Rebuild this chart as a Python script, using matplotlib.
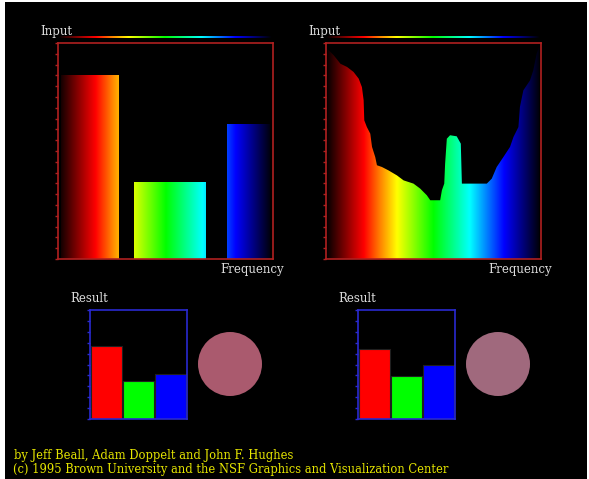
import numpy as np
import matplotlib
matplotlib.use("Agg")
import matplotlib.pyplot as plt
from matplotlib.colors import LinearSegmentedColormap
from matplotlib.patches import Rectangle, Circle

# --- data ---
# left histogram: three bands along the input axis (0..1)
band_left = [0.016, 0.353, 0.788]
band_right = [0.284, 0.684, 0.988]
band_freq = [0.85, 0.355, 0.623]

# right histogram: frequency profile along the input axis
curve_x = [0.005, 0.036, 0.067, 0.098, 0.128, 0.152, 0.167, 0.175, 0.178, 0.190,
           0.206, 0.214, 0.229, 0.237, 0.260, 0.291, 0.330, 0.361, 0.407, 0.438,
           0.469, 0.485, 0.531, 0.539, 0.550, 0.554, 0.562, 0.577, 0.608, 0.627,
           0.632, 0.655, 0.748, 0.771, 0.794, 0.825, 0.856, 0.872, 0.895, 0.902,
           0.918, 0.949, 0.964, 0.980, 0.992]
curve_y = [0.974, 0.943, 0.904, 0.889, 0.866, 0.835, 0.796, 0.735, 0.642, 0.611,
           0.580, 0.519, 0.472, 0.434, 0.426, 0.410, 0.387, 0.364, 0.349, 0.326,
           0.295, 0.272, 0.272, 0.318, 0.349, 0.441, 0.557, 0.573, 0.568, 0.534,
           0.349, 0.349, 0.349, 0.372, 0.426, 0.472, 0.519, 0.565, 0.611, 0.704,
           0.781, 0.827, 0.873, 0.951, 0.985]

# result bars (red, green, blue) and mixed colours
result_labels = ["R", "G", "B"]
result_left = [0.67, 0.35, 0.415]
result_right = [0.643, 0.396, 0.494]
result_colors = ["#ff0000", "#00ff00", "#0000ff"]
mix_left = "#aa5a6e"
mix_right = "#a0697d"

credit1 = "by Jeff Beall, Adam Doppelt and John F. Hughes"
credit2 = "(c) 1995 Brown University and the NSF Graphics and Visualization Center"

# spectrum colormap: black -> red -> yellow -> green -> cyan -> blue -> black
spec = LinearSegmentedColormap.from_list("spec", [
    (0.0, "#000000"), (0.175, "#ff0000"), (0.25, "#ff8000"), (0.33, "#ffff00"),
    (0.5, "#00ff00"), (0.67, "#00ffff"), (0.83, "#0000ff"), (1.0, "#000000")])
grad = np.linspace(0, 1, 512)[None, :]

W, H = 589, 479
fig = plt.figure(figsize=(W / 100, H / 100), dpi=100, facecolor="white")
fig.patches.append(Rectangle((5 / W, 0), (W - 7) / W, (H - 2) / H, transform=fig.transFigure,
                             facecolor="black", edgecolor="none", zorder=-10))

def px(x0, y0, x1, y1):
    return [x0 / W, 1 - y1 / H, (x1 - x0) / W, (y1 - y0) / H]

frame_red = "#b02020"
frame_blue = "#2a2ad0"
label_col = "#dcdcdc"
serif = "DejaVu Serif"

def hist_axes(rect):
    ax = fig.add_axes(rect)
    ax.set_facecolor("black")
    ax.set_xlim(0, 1)
    ax.set_ylim(0, 1)
    for s in ax.spines.values():
        s.set_color(frame_red)
        s.set_linewidth(1.2)
    ax.set_xticks([])
    ax.set_yticks(np.arange(0, 1.01, 0.05))
    ax.set_yticklabels([])
    ax.tick_params(axis="y", direction="out", length=2.5, width=1, color=frame_red)
    return ax

# left histogram
ax1 = hist_axes(px(58, 43, 273, 259))
bars = ax1.bar(band_left, band_freq, width=np.array(band_right) - np.array(band_left),
               align="edge", color="none", edgecolor="none")
for b in bars:
    im = ax1.imshow(grad, cmap=spec, extent=[0, 1, 0, 1], aspect="auto", interpolation="bilinear")
    im.set_clip_path(b)

# right histogram
ax2 = hist_axes(px(326, 43, 541, 259))
poly = ax2.fill_between(curve_x, curve_y, 0, color="none", edgecolor="none")
im = ax2.imshow(grad, cmap=spec, extent=[0, 1, 0, 1], aspect="auto", interpolation="bilinear")
im.set_clip_path(poly.get_paths()[0], ax2.transData)

# spectrum strips above each histogram
for x0, x1 in [(58, 272), (326, 540)]:
    sa = fig.add_axes(px(x0, 35.5, x1, 38.5))
    sa.imshow(grad, cmap=spec, aspect="auto", interpolation="bilinear")
    sa.axis("off")

# result panels
def result_axes(rect, vals):
    ax = fig.add_axes(rect)
    ax.set_facecolor("black")
    ax.set_xlim(0, 3)
    ax.set_ylim(0, 1)
    ax.bar(np.arange(3) + 0.5, vals, width=0.96, color=result_colors,
           edgecolor="#202020", linewidth=0.8)
    for s in ax.spines.values():
        s.set_color(frame_blue)
        s.set_linewidth(1.2)
    ax.set_xticks([])
    ax.set_yticks(np.arange(0, 1.01, 0.1))
    ax.set_yticklabels([])
    ax.tick_params(axis="y", direction="out", length=2.5, width=1, color=frame_blue)
    return ax

result_axes(px(90, 310, 187, 419), result_left)
result_axes(px(358, 310, 455, 419), result_right)

# overlay in pixel coordinates for text and colour disks
ov = fig.add_axes([0, 0, 1, 1], facecolor="none")
ov.set_xlim(0, W)
ov.set_ylim(H, 0)
ov.axis("off")
ov.add_patch(Circle((230, 364), 32, facecolor=mix_left, edgecolor="none"))
ov.add_patch(Circle((498, 364), 32, facecolor=mix_right, edgecolor="none"))

for x in (40, 308):
    ov.text(x, 31, "Input", color=label_col, fontsize=8.5, family=serif, va="center", ha="left")
for x in (284, 552):
    ov.text(x, 270, "Frequency", color=label_col, fontsize=8.5, family=serif, va="center", ha="right")
for x in (70, 338):
    ov.text(x, 298, "Result", color=label_col, fontsize=8.5, family=serif, va="center", ha="left")

ov.text(14, 455, credit1, color="#e6e600", fontsize=8.3, family=serif, va="center", ha="left")
ov.text(13, 469, credit2, color="#e6e600", fontsize=8.3, family=serif, va="center", ha="left")

fig.savefig("out.png", dpi=100, facecolor="white")
